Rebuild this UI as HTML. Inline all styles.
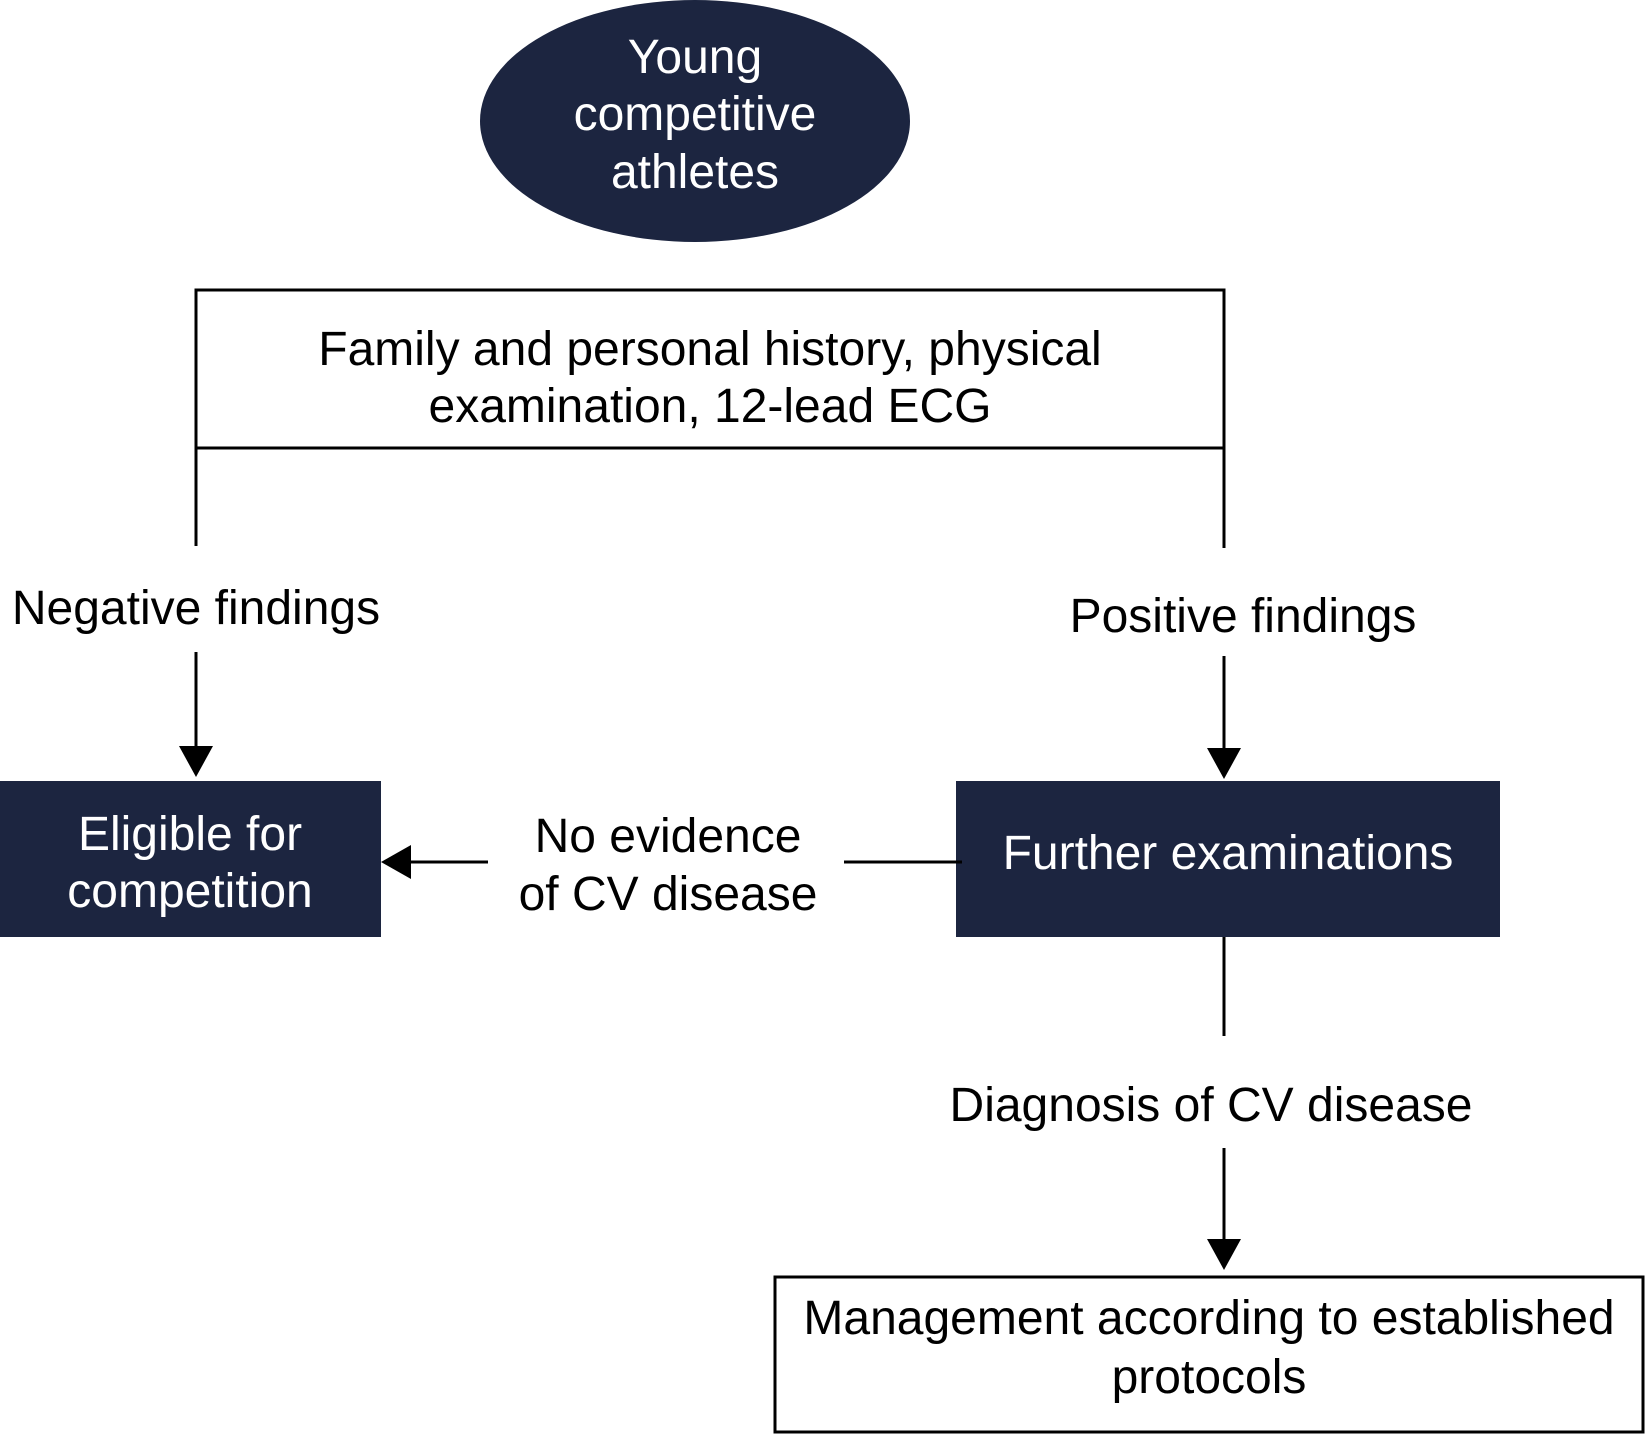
<!DOCTYPE html>
<html><head><meta charset="utf-8"><style>
html,body{margin:0;padding:0;background:#fff;}
svg{display:block;}
text{font-family:"Liberation Sans",Arial,sans-serif;font-size:48px;text-anchor:middle;}
</style></head><body>
<svg width="1645" height="1435" viewBox="0 0 1645 1435" xmlns="http://www.w3.org/2000/svg">
<g fill="#1c2540">
<ellipse cx="695" cy="121" rx="215" ry="121"/>
<rect x="0" y="781" width="381" height="156"/>
<rect x="956" y="781" width="544" height="156"/>
</g>
<g fill="none" stroke="#000" stroke-width="3">
<rect x="196" y="290" width="1028" height="158"/>
<rect x="775" y="1277" width="868" height="155"/>
<line x1="196" y1="448" x2="196" y2="546"/>
<line x1="1224" y1="448" x2="1224" y2="548"/>
<line x1="196" y1="652" x2="196" y2="750"/>
<line x1="1224" y1="656" x2="1224" y2="752"/>
<line x1="844" y1="862" x2="962" y2="862"/>
<line x1="405" y1="862" x2="488" y2="862"/>
<line x1="1224" y1="937" x2="1224" y2="1036"/>
<line x1="1224" y1="1148" x2="1224" y2="1243"/>
</g>
<g fill="#000">
<polygon points="179,746 213,746 196,777"/>
<polygon points="1207,748 1241,748 1224,779"/>
<polygon points="381,862 411,845 411,879"/>
<polygon points="1207,1239 1241,1239 1224,1270"/>
</g>
<g fill="#fff">
<text x="695" y="73">Young</text>
<text x="695" y="130">competitive</text>
<text x="695" y="188">athletes</text>
<text x="190" y="850">Eligible for</text>
<text x="190" y="907">competition</text>
<text x="1228" y="869">Further examinations</text>
</g>
<g fill="#000">
<text x="710" y="365">Family and personal history, physical</text>
<text x="710" y="422">examination, 12-lead ECG</text>
<text x="196" y="624">Negative findings</text>
<text x="1243" y="632">Positive findings</text>
<text x="668" y="852">No evidence</text>
<text x="668" y="910">of CV disease</text>
<text x="1211" y="1121">Diagnosis of CV disease</text>
<text x="1209" y="1334">Management according to established</text>
<text x="1209" y="1393">protocols</text>
</g>
</svg>
</body></html>
